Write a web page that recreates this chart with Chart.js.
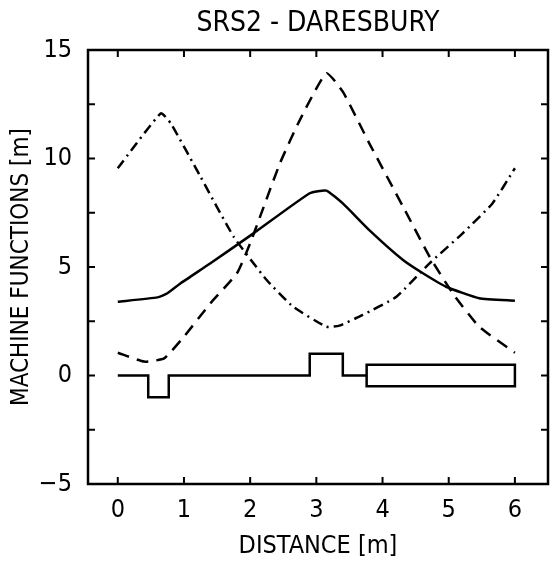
<!DOCTYPE html>
<html>
<head>
<meta charset="utf-8">
<script src="https://cdn.jsdelivr.net/npm/chart.js@4/dist/chart.umd.min.js"></script>
<style>
  html, body { margin: 0; padding: 0; background: #fff; }
  #wrap { width: 552px; height: 561px; }
</style>
</head>
<body>
<div id="wrap"><canvas id="chart" width="552" height="561"></canvas></div>
<script>
// values (distance in m, functions in m)
const solidX = [0, 0.60, 0.75, 0.95, 1.40, 2.05, 2.90, 3.15, 3.40, 3.80, 4.31, 4.61, 4.96, 5.46, 6.0];
const solidY = [3.4, 3.6, 3.79, 4.25, 5.17, 6.55, 8.4, 8.52, 7.93, 6.7, 5.32, 4.71, 4.09, 3.56, 3.45];

const dashX = [0, 0.40, 0.70, 1.0, 1.40, 1.80, 2.0, 2.15, 2.45, 2.75, 3.15, 3.40, 3.80, 4.31, 4.71, 5.06, 5.46, 6.0];
const dashY = [1.05, 0.64, 0.79, 1.79, 3.33, 4.71, 6.09, 7.32, 9.78, 11.77, 13.93, 13.08, 10.7, 7.78, 5.48, 3.79, 2.25, 1.05];

const dotDashX = [0, 0.65, 0.80, 1.25, 1.75, 2.25, 2.65, 3.15, 3.35, 3.70, 4.21, 4.71, 5.21, 5.66, 6.0];
const dotDashY = [9.55, 12.08, 11.62, 9.16, 6.4, 4.4, 3.17, 2.25, 2.3, 2.79, 3.63, 5.17, 6.55, 7.93, 9.55];

// magnet layout outline
const latticeX = [0, 0.46, 0.46, 0.77, 0.77, 2.9, 2.9, 3.4, 3.4, 3.76, 3.76, 6.0, 6.0, 3.76, 3.76];
const latticeY = [0, 0, -1, -1, 0, 0, 1, 1, 0, 0, 0.5, 0.5, -0.5, -0.5, 0];

const xTicks = [0, 1, 2, 3, 4, 5, 6];
const yTicks = [-5, 0, 5, 10, 15];
const yMinorTicks = [-2.5, 2.5, 7.5, 12.5];

const FONT = "'Liberation Sans Narrow', 'DejaVu Sans Condensed', 'Liberation Sans', sans-serif";

function pts(xs, ys) {
  return xs.map((x, i) => ({ x: x, y: ys[i] }));
}

function curve(label, xs, ys, dash, extra) {
  return Object.assign({
    label: label,
    data: pts(xs, ys),
    showLine: true,
    borderColor: '#000',
    borderWidth: 2.5,
    borderDash: dash,
    pointRadius: 0,
    fill: false,
    tension: 0.15
  }, extra || {});
}

// frame + inward ticks on all four sides
const framePlugin = {
  id: 'frame',
  afterDraw(chart) {
    const { ctx, chartArea: a, scales } = chart;
    ctx.save();
    ctx.strokeStyle = '#000';
    ctx.lineWidth = 2.5;
    ctx.strokeRect(a.left, a.top, a.right - a.left, a.bottom - a.top);
    ctx.lineWidth = 2;
    const len = 7;
    xTicks.forEach(v => {
      const px = scales.x.getPixelForValue(v);
      ctx.beginPath();
      ctx.moveTo(px, a.bottom); ctx.lineTo(px, a.bottom - len);
      ctx.moveTo(px, a.top); ctx.lineTo(px, a.top + len);
      ctx.stroke();
    });
    yTicks.concat(yMinorTicks).forEach(v => {
      const py = scales.y.getPixelForValue(v);
      ctx.beginPath();
      ctx.moveTo(a.left, py); ctx.lineTo(a.left + len, py);
      ctx.moveTo(a.right, py); ctx.lineTo(a.right - len, py);
      ctx.stroke();
    });
    ctx.restore();
  }
};

new Chart(document.getElementById('chart'), {
  type: 'scatter',
  data: {
    datasets: [
      curve('solid', solidX, solidY, []),
      curve('dashed', dashX, dashY, [12, 8]),
      curve('dash-dot', dotDashX, dotDashY, [10, 5, 2, 5]),
      curve('lattice', latticeX, latticeY, [], { tension: 0 })
    ]
  },
  options: {
    responsive: false,
    animation: false,
    layout: { padding: { left: 0, right: 4, top: 0, bottom: 0 } },
    plugins: {
      legend: { display: false },
      tooltip: { enabled: false },
      title: {
        display: true,
        fullSize: false,
        text: 'SRS2 - DARESBURY',
        color: '#000',
        font: { family: FONT, size: 28, weight: 'normal' },
        padding: { top: 7, bottom: 9.4 }
      }
    },
    scales: {
      x: {
        type: 'linear',
        min: -0.45,
        max: 6.5,
        afterBuildTicks: s => { s.ticks = xTicks.map(v => ({ value: v })); },
        afterFit: s => { s.height = 77; },
        grid: { display: false, drawTicks: false },
        border: { display: false },
        ticks: { color: '#000', padding: 11, font: { family: FONT, size: 25 } },
        title: {
          display: true,
          text: 'DISTANCE [m]',
          color: '#000',
          font: { family: FONT, size: 25 },
          padding: { top: 0, bottom: 0 }
        }
      },
      y: {
        type: 'linear',
        min: -5,
        max: 15,
        afterBuildTicks: s => { s.ticks = yTicks.map(v => ({ value: v })); },
        afterFit: s => { s.width = 88; },
        grid: { display: false, drawTicks: false },
        border: { display: false },
        ticks: {
          color: '#000',
          padding: 16,
          font: { family: FONT, size: 25 },
          callback: v => String(v).replace('-', '\u2212')
        },
        title: {
          display: true,
          text: 'MACHINE FUNCTIONS [m]',
          color: '#000',
          font: { family: FONT, size: 24 },
          padding: { top: 7, bottom: 0 }
        }
      }
    }
  },
  plugins: [framePlugin]
});
</script>
</body>
</html>
